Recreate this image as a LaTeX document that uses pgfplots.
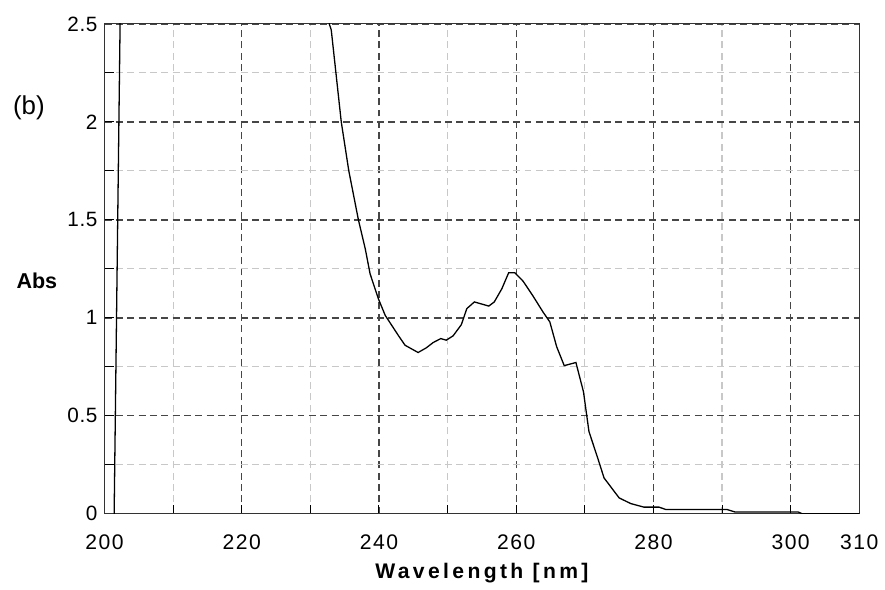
\documentclass[border=0pt]{standalone}
\usepackage{fontspec}
\setmainfont{Liberation Sans}
\newfontfamily\ytickfont[LetterSpace=3]{Liberation Sans}
\newfontfamily\xtickfont[LetterSpace=7]{Liberation Sans}
\newfontfamily\labfont[LetterSpace=16]{Liberation Sans}
\usepackage{pgfplots}
\pgfplotsset{compat=1.18}
\definecolor{majgrid}{RGB}{70,70,70}
\definecolor{mingrid}{RGB}{200,200,200}
\begin{document}
\begin{tikzpicture}
\begin{axis}[
  scale only axis,
  width=379pt, height=246pt,
  xmin=200, xmax=310, ymin=0, ymax=2.5,
  xtick={200,220,240,260,280,300,310},
  minor xtick={210,230,250,270,290},
  ytick={0,0.5,1,1.5,2,2.5},
  minor ytick={0.25,0.75,1.25,1.75,2.25},
  tick align=inside,
  tick pos=left,
  major tick length=4.5pt,
  minor tick length=4.5pt,
  every tick/.style={black, line width=0.5pt},
  grid=both,
  major grid style={majgrid, dash pattern=on 3.5pt off 2.2pt, line width=0.7pt},
  minor grid style={mingrid, dash pattern=on 3.5pt off 2.2pt, line width=0.6pt},
  axis line style={black!80, line width=0.6pt},
  /pgf/number format/assume math mode=true,
  xticklabel style={font=\xtickfont\fontsize{10.6}{12}\selectfont, yshift=-7pt},
  yticklabel style={font=\ytickfont\fontsize{10.4}{12}\selectfont},
  xlabel={\labfont\bfseries\fontsize{10.6}{12}\selectfont Wavelength [nm]},
  xlabel style={yshift=0pt},
  ylabel={\bfseries\fontsize{10.8}{12}\selectfont Abs},
  ylabel style={rotate=-90, at={(rel axis cs:0,0.475)}, anchor=center, xshift=-34pt},
]
\addplot[black, line width=0.65pt] coordinates {
(201.4,0) (202.3,2.6) (232.6,2.6) (232.75,2.5) (233.04,2.47)
(234.5,2.0) (235.6,1.75) (237.0,1.5) (238.0,1.352) (238.7,1.225)
(239.9,1.098) (240.9,1.013) (242.8,0.911) (243.8,0.86) (245.7,0.823)
(246.9,0.847) (247.9,0.874) (249.0,0.894) (249.8,0.886) (250.8,0.908)
(252.0,0.965) (252.8,1.047) (253.9,1.081) (256.0,1.060) (256.8,1.081)
(257.9,1.148) (258.9,1.23) (259.8,1.23) (261.0,1.187) (262.4,1.114)
(263.9,1.03) (264.9,0.979) (265.9,0.852) (267.0,0.756) (268.7,0.772)
(269.8,0.623) (270.6,0.42) (271.4,0.335) (271.8,0.293) (272.8,0.183)
(275.0,0.081) (276.7,0.052) (278.6,0.034) (280.8,0.034) (281.8,0.022)
(290.7,0.022) (291.9,0.009) (301.1,0.009) (301.7,0) (310,0)
};
\end{axis}
\node[anchor=center, font=\fontsize{13}{15}\selectfont] at ([xshift=-38pt,yshift=-42pt]current axis.north west) {(b)};
\path (current axis.south west) ++(-52.5pt,-35pt) rectangle ++(442.5pt,293pt);
\end{tikzpicture}
\end{document}
